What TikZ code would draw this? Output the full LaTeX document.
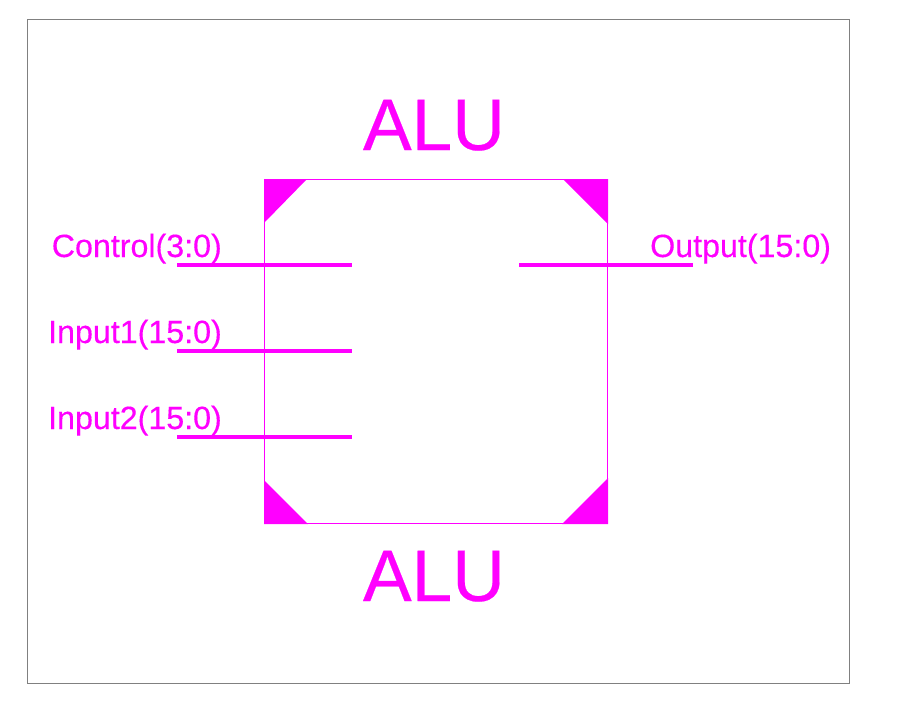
\documentclass[tikz,border=0pt]{standalone}
\usepackage{fontspec}
\setmainfont{Liberation Sans}[RawFeature={embolden=0.3}]
\definecolor{pinmagenta}{RGB}{255,0,255}
\tikzset{
    alubox/.style={draw=pinmagenta, line width=1pt, inner sep=0pt, minimum width=343pt, minimum height=344pt},
    pinwire/.style={pinmagenta, line width=4pt},
    pinlabel/.style={text=pinmagenta, font=\fontsize{32.2}{36}\selectfont, inner sep=0pt},
    titlelabel/.style={text=pinmagenta, font=\fontsize{73}{80}\selectfont, inner sep=0pt, anchor=base},
}
\begin{document}
\begin{tikzpicture}[x=1pt, y=-1pt]
    \useasboundingbox (0,0) rectangle (898,713);
    % Outer frame
    \draw[gray, line width=1pt] (27.5,19.5) rectangle (849.5,683.5);
    % Symbol body
    \node[alubox] (alu) at (436,351.5) {};
    % Corner marks
    \fill[pinmagenta] (alu.north west) -- ++(43,0) -- ++(-43,44) -- cycle;
    \fill[pinmagenta] (alu.north east) -- ++(-45,0) -- ++(45,45) -- cycle;
    \fill[pinmagenta] (alu.south west) -- ++(44,0) -- ++(-44,-44) -- cycle;
    \fill[pinmagenta] (alu.south east) -- ++(-46,0) -- ++(46,-46) -- cycle;
    % Titles
    \node[titlelabel] (alutop) at (434,150) {ALU};
    \node[titlelabel] (alubottom) at (434,601) {ALU};
    % Input pins
    \foreach \name/\txt/\yk in {control/Control(3:0)/264.8, inputa/Input1(15:0)/350.8, inputb/Input2(15:0)/436.8} {
        \coordinate (\name out) at (177,\yk);
        \coordinate (\name in) at (352,\yk);
        \draw[pinwire] (\name out) -- (\name in);
        \node[pinlabel, anchor=base east] (\name) at (222,\yk-7.8) {\txt};
    }
    % Output pin
    \coordinate (outputin) at (519,264.8);
    \coordinate (outputout) at (693,264.8);
    \draw[pinwire] (outputin) -- (outputout);
    \node[pinlabel, anchor=base west] (output) at (650,257) {Output(15:0)};
\end{tikzpicture}
\end{document}
